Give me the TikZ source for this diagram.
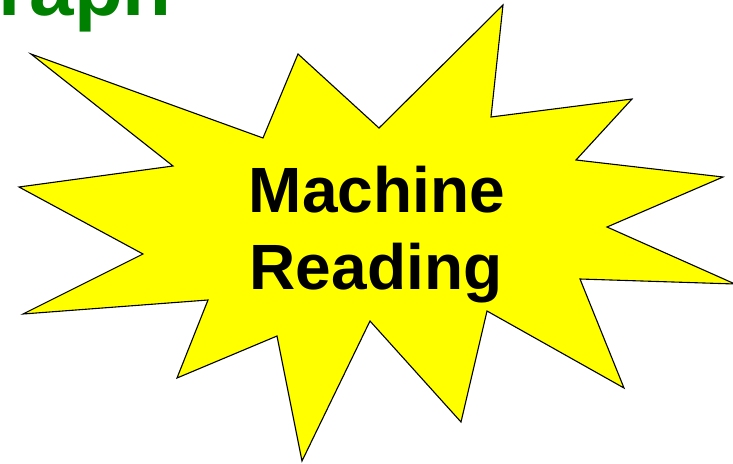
\documentclass[tikz,border=0pt]{standalone}
\usepackage{fontspec}
\setmainfont{Liberation Sans}
\definecolor{burstyellow}{RGB}{255,255,0}
\definecolor{titlegreen}{RGB}{0,128,0}
\tikzstyle{burst}=[draw=black, fill=burstyellow, line width=1.1pt, line join=miter, miter limit=25]
\tikzstyle{bigword}=[font={\fontsize{64}{77}\selectfont\bfseries}, anchor=base, inner sep=0pt]
\tikzstyle{heading}=[font={\fontsize{80}{96}\selectfont\bfseries}, text=titlegreen, anchor=base east, inner sep=0pt]

\begin{document}
\begin{tikzpicture}[x=1pt, y=-1pt]
    \useasboundingbox (0,0) rectangle (733,463);
    \node [heading] (title) at (172,15) {raph};
    \draw [burst] (31,54) -- (263,138) -- (298,54) -- (379,128) -- (503,5)
        -- (491,117) -- (632,99) -- (576,160) -- (723,177) -- (607,227)
        -- (735,284) -- (580,279) -- (624,388) -- (487,311) -- (461,422)
        -- (370,321) -- (302,461) -- (277,336) -- (177,378) -- (208,300)
        -- (23,314) -- (143,254) -- (19,187) -- (173,166) -- cycle;
    \node [bigword] (machine) at (377,212) {Machine};
    \node [bigword] (reading) at (376,289) {Reading};
\end{tikzpicture}
\end{document}
